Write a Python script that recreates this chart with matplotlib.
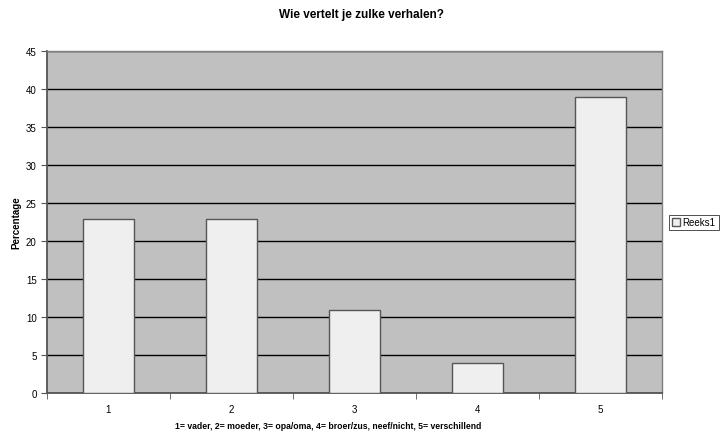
import matplotlib
matplotlib.use("Agg")
import matplotlib.pyplot as plt
import numpy as np

plt.rcParams['font.family'] = ['Liberation Sans', 'DejaVu Sans']

categories = ["1", "2", "3", "4", "5"]
values = [23, 23, 11, 4, 39]
series_name = "Reeks1"
title = "Wie vertelt je zulke verhalen?"
xlabel = "1= vader, 2= moeder, 3= opa/oma, 4= broer/zus, neef/nicht, 5= verschillend"
ylabel = "Percentage"

fig = plt.figure(figsize=(7.2, 4.35), dpi=100)
ax = fig.add_axes([47/720, 1 - 394.3/435, (662-47)/720, (394.3-52.3)/435])
ax.set_facecolor("#C0C0C0")

x = np.arange(len(categories))
ax.bar(x, values, width=0.41, color="#EFEFEF", edgecolor="#555555",
       linewidth=1.0, zorder=3, label=series_name)

ax.set_xlim(-0.5, len(categories) - 0.5)
ax.set_ylim(0, 45)
ax.set_yticks(np.arange(0, 46, 5))
ax.yaxis.grid(True, color="black", linewidth=1.0, zorder=1)
ax.set_axisbelow(True)

ax.set_xticks(x)
ax.set_xticklabels(categories)
ax.set_xticks(np.arange(-0.5, len(categories)), minor=True)
ax.tick_params(axis='x', which='major', length=0, pad=8, labelsize=7)
ax.tick_params(axis='x', which='minor', length=4, color="#555555")
ax.tick_params(axis='y', length=4, labelsize=7, color="#555555")

for side in ['left', 'bottom']:
    ax.spines[side].set_color("#555555")
    ax.spines[side].set_linewidth(1.3)
for side in ['top', 'right']:
    ax.spines[side].set_color("#808080")
    ax.spines[side].set_linewidth(1.0)

fig.text(328/720, 1 - 427/435, xlabel, fontsize=6.2, fontweight='bold',
         ha='center', va='center')
fig.text(16/720, 1 - 223/435, ylabel, fontsize=7, fontweight='bold',
         ha='center', va='center', rotation=90)
fig.text(361/720, 1 - 15/435, title, fontsize=8.5, fontweight='bold',
         ha='center', va='center')

leg = ax.legend(loc='center left', bbox_to_anchor=(669/720, 1 - 223.5/435),
                bbox_transform=fig.transFigure, fontsize=7, frameon=True,
                fancybox=False, edgecolor="black", handlelength=0.8,
                handleheight=0.8, handletextpad=0.3, borderpad=0.3,
                borderaxespad=0)
leg.get_frame().set_linewidth(0.6)

fig.savefig("out.png", dpi=100)
